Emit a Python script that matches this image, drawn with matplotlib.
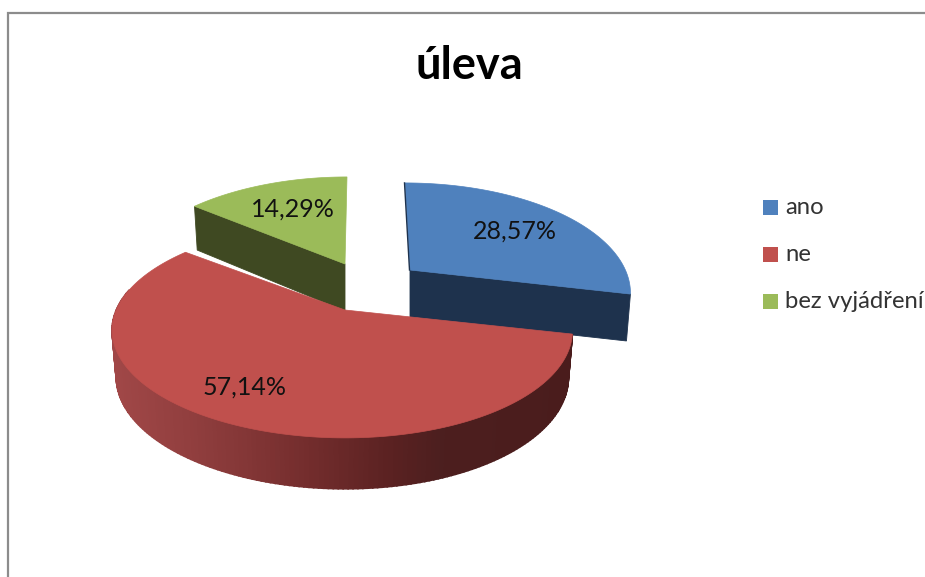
import numpy as np
import matplotlib
matplotlib.use('Agg')
import matplotlib.pyplot as plt
from matplotlib.patches import Rectangle

title = 'úleva'
categories = ['ano', 'ne', 'bez vyjádření']
values = [28.57, 57.14, 14.29]

# top surface / wall colours
top_colors = ['#4f81bd', '#c0504d', '#9bbb59']
wall_colors = ['#1e324d', None, '#3f4922']
# wall gradient of the big red slice, left to right
red_x = [113, 200, 300, 395, 440, 572]
red_r = [0.63, 0.56, 0.46, 0.35, 0.30, 0.29]
red_g = [0.28, 0.24, 0.18, 0.13, 0.12, 0.11]

# apex, radius and top lean of each exploded slice, in pixels
apex = [(410, 270), (345, 310), (345, 264)]
radius = [218, 226, 215]
lean = [-5, 0, 2]
label_pos = [(515, 231), (245, 387), (293, 209)]

plt.rcParams['font.family'] = ['Lato', 'DejaVu Sans']


def project(cx, cy, r, ang, tilt=0):
    """Flat circle to screen with a bit of perspective."""
    px = np.cos(ang)
    py = np.sin(ang)
    s = 1 / (1 + 0.19 * py)
    return cx + r * px * s * (1 - 0.012 * px) + tilt * py, cy - 103.6 * py * s


def depth(ang):
    s = 1 / (1 + 0.19 * np.sin(ang))
    return 46 * (1 + 0.45 * (s - 1))


fig = plt.figure(figsize=(9.25, 5.77), dpi=100)
ax = fig.add_axes([0, 0, 1, 1])
ax.set_xlim(0, 925)
ax.set_ylim(577, 0)
ax.axis('off')

# chart frame, runs off the picture on the right and at the bottom
ax.plot([8, 8, 940], [590, 13, 13], color='#8c8c8c', lw=1.6, solid_joinstyle='miter')

# slice angles, clockwise from 12 o'clock
total = sum(values)
starts = []
ends = []
a = np.pi / 2
for v in values:
    starts.append(a)
    a = a - v / total * 2 * np.pi
    ends.append(a)

# draw order: green, blue, red
for i in [2, 0, 1]:
    cx, cy = apex[i]
    r = radius[i]
    ang = np.linspace(starts[i], ends[i], 200)
    x, y = project(cx, cy, r, ang, lean[i])
    if i == 1:
        # outer wall, strips coloured by x
        d = depth(ang)
        xb = cx + (x - cx) * 0.982
        for j in range(len(ang) - 1):
            if np.sin(ang[j]) > 0.2:
                continue
            xm = (x[j] + x[j + 1]) / 2
            col = (np.interp(xm, red_x, red_r), np.interp(xm, red_x, red_g), np.interp(xm, red_x, red_g))
            ax.fill([x[j], x[j + 1], xb[j + 1], xb[j]],
                    [y[j], y[j + 1], y[j + 1] + d[j + 1], y[j] + d[j]],
                    color=col, lw=1.2)
    else:
        # flat cut face of the slice
        edge = ends[0] if i == 0 else starts[2]
        ex, ey = project(cx, cy, r, edge, lean[i])
        ax.fill([cx, ex, cx + (ex - cx) * 0.982, cx],
                [cy, ey, ey + depth(edge), cy + 47], color=wall_colors[i], lw=0.6)
    ax.fill(np.r_[cx, x], np.r_[cy, y], color=top_colors[i], lw=0.5)

# thin dark side of the blue slice
bx, by = project(apex[0][0], apex[0][1], radius[0], starts[0], lean[0])
ax.plot([bx - 0.5, apex[0][0] - 0.5], [by, apex[0][1]], color=wall_colors[0], lw=1.0)

for i in range(3):
    txt = f'{values[i]:.2f}'.replace('.', ',') + '%'
    ax.text(label_pos[i][0], label_pos[i][1], txt, fontsize=18, color='#111111', ha='center', va='center')

ax.text(469, 66, title, fontsize=32.5, fontweight='bold', color='black', ha='center', va='center')

# legend
leg_y = [207, 254.5, 301.5]
for i in range(3):
    ax.add_patch(Rectangle((763, leg_y[i] - 7.5), 15, 15, facecolor=top_colors[i], edgecolor='none'))
    ax.text(785, leg_y[i], categories[i], fontsize=17.2, color='#333333', ha='left', va='center')

fig.savefig('out.png', dpi=100)
